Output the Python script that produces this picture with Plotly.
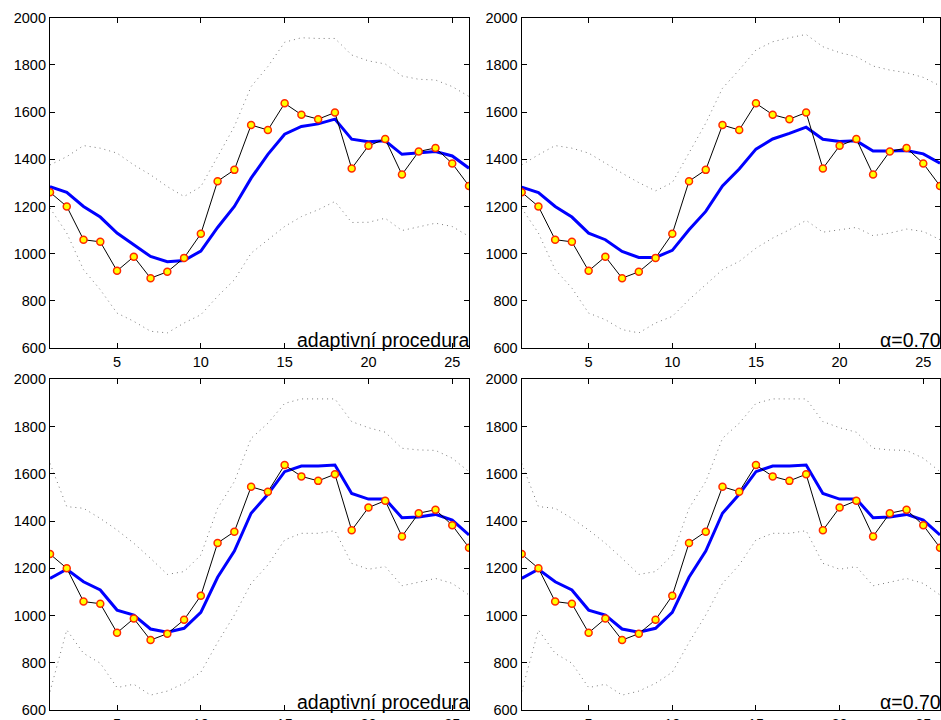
import plotly.graph_objects as go

# Time index (observations 1..26)
t = list(range(1, 27))

# Observed series (same in all four panels)
observed = [1260, 1200, 1059, 1050, 927, 987, 896, 923, 982, 1084,
            1307, 1355, 1545, 1524, 1637, 1589, 1570, 1598, 1361, 1457,
            1486, 1335, 1433, 1448, 1382, 1287]

# Top-left: adaptive procedure
fit_tl = [1284, 1260, 1200, 1155, 1087, 1037, 988, 966, 971, 1011,
          1111, 1200, 1320, 1421, 1506, 1539, 1550, 1570, 1485, 1474,
          1478, 1421, 1426, 1433, 1414, 1362]
upper_tl = [1376, 1411, 1458, 1447, 1426, 1376, 1334, 1284, 1242, 1284,
            1411, 1539, 1708, 1793, 1896, 1915, 1912, 1912, 1842, 1817,
            1804, 1753, 1739, 1736, 1708, 1666]
lower_tl = [1193, 1087, 932, 847, 748, 713, 671, 664, 706, 741,
            819, 889, 1002, 1059, 1115, 1157, 1186, 1221, 1132, 1133,
            1150, 1098, 1115, 1129, 1115, 1073]

# Top-right: alpha = 0.70
fit_tr = [1282, 1259, 1200, 1155, 1087, 1059, 1009, 984, 984, 1014,
          1101, 1179, 1287, 1359, 1443, 1486, 1510, 1536, 1485, 1475,
          1478, 1435, 1435, 1437, 1423, 1383]
upper_tr = [1376, 1419, 1458, 1447, 1426, 1383, 1341, 1301, 1266, 1301,
            1426, 1553, 1701, 1779, 1863, 1898, 1915, 1929, 1877, 1852,
            1835, 1795, 1778, 1767, 1747, 1711]
lower_tr = [1193, 1087, 932, 854, 748, 720, 678, 664, 706, 734,
            805, 868, 932, 967, 1023, 1066, 1101, 1141, 1091, 1101,
            1111, 1076, 1087, 1104, 1094, 1059]

# Bottom row (both panels)
fit_b = [1157, 1196, 1143, 1108, 1023, 1002, 943, 929, 946, 1013,
         1162, 1273, 1433, 1513, 1609, 1633, 1633, 1637, 1517, 1493,
         1493, 1414, 1417, 1428, 1404, 1341]
upper_b = [1644, 1461, 1454, 1411, 1362, 1306, 1242, 1174, 1186, 1256,
           1454, 1567, 1750, 1814, 1898, 1917, 1917, 1917, 1821, 1795,
           1776, 1708, 1701, 1699, 1666, 1609]
lower_b = [678, 939, 840, 798, 695, 709, 663, 680, 713, 760,
           886, 1002, 1136, 1214, 1320, 1348, 1348, 1359, 1221, 1196,
           1207, 1126, 1141, 1157, 1136, 1087]

panels = [
    (fit_tl, upper_tl, lower_tl, "adaptivní procedura"),
    (fit_tr, upper_tr, lower_tr, "α=0.70"),
    (fit_b, upper_b, lower_b, "adaptivní procedura"),
    (fit_b, upper_b, lower_b, "α=0.70"),
]

W, H = 941, 720
xdoms = [(50 / W, 469 / W), (521.7 / W, 940 / W)]
ydoms = [(1 - 348 / H, 1 - 17.7 / H), (1 - 710 / H, 1 - 379.3 / H)]

x_ticks = [5, 10, 15, 20, 25]
y_ticks = [600, 800, 1000, 1200, 1400, 1600, 1800, 2000]

fig = go.Figure()
layout = {}
font = dict(family="Liberation Sans, Arial, sans-serif", size=14.5, color="black")

for i, (fit, up, lo, label) in enumerate(panels):
    r, c = divmod(i, 2)
    n = "" if i == 0 else str(i + 1)
    xa, ya = "x" + n, "y" + n
    for band in (up, lo):
        fig.add_trace(go.Scatter(x=t, y=band, mode="lines", xaxis=xa, yaxis=ya,
                                 line=dict(color="#7a7a7a", width=1, dash="1px,4px"),
                                 showlegend=False, hoverinfo="skip"))
    fig.add_trace(go.Scatter(x=t, y=fit, mode="lines", xaxis=xa, yaxis=ya,
                             line=dict(color="#0000ff", width=3),
                             showlegend=False))
    fig.add_trace(go.Scatter(x=t, y=observed, mode="lines+markers", xaxis=xa, yaxis=ya,
                             line=dict(color="black", width=1),
                             marker=dict(symbol="circle", size=7, color="#ffff00",
                                         line=dict(color="#ff2a00", width=1.5)),
                             showlegend=False))
    common = dict(showline=True, linecolor="black", linewidth=1.2, mirror="ticks",
                  ticks="inside", ticklen=5, tickcolor="black", tickwidth=1,
                  showgrid=False, zeroline=False, automargin=False,
                  tickfont=font)
    layout["xaxis" + n] = dict(domain=xdoms[c], range=[1, 26], tickvals=x_ticks,
                               anchor=ya, **common)
    layout["yaxis" + n] = dict(domain=ydoms[r], range=[600, 2000], tickvals=y_ticks,
                               anchor=xa, **common)
    fig.add_annotation(text=label, xref=xa + " domain", yref=ya + " domain",
                       x=1.0, y=0.0, xanchor="right", yanchor="bottom",
                       showarrow=False, font=dict(family=font["family"], size=19.5, color="black"),
                       borderpad=0, xshift=2, yshift=-4)

fig.update_layout(width=W, height=H, margin=dict(l=0, r=0, t=0, b=0),
                  paper_bgcolor="white", plot_bgcolor="white", **layout)
fig.write_html("out.html")
